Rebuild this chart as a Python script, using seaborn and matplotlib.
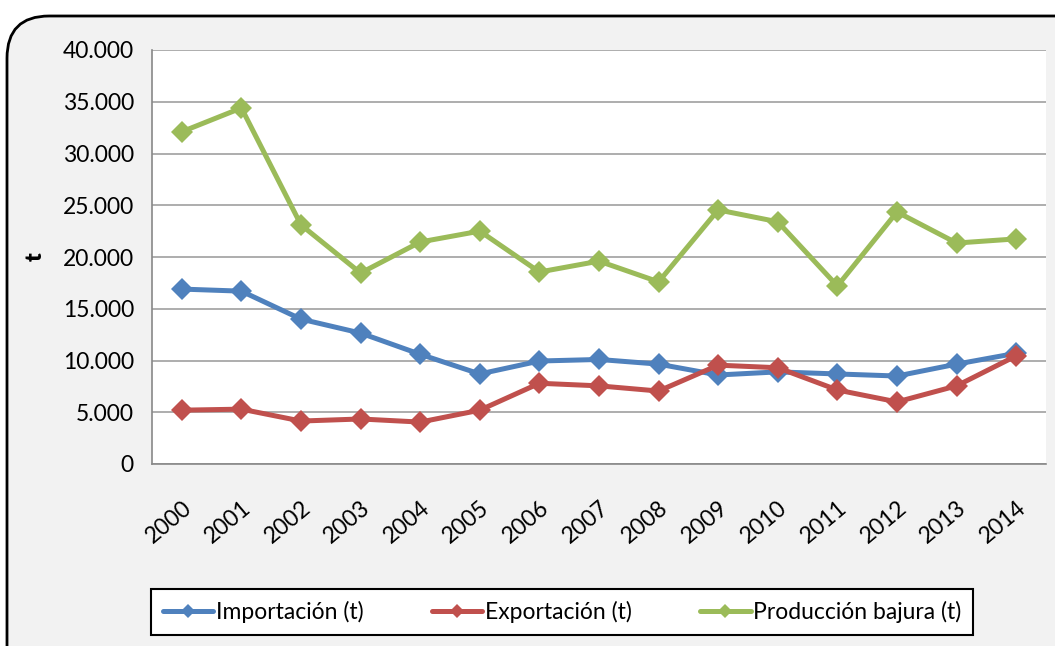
import numpy as np
import pandas as pd
import matplotlib
matplotlib.use("Agg")
import matplotlib.pyplot as plt
from matplotlib.patches import FancyBboxPatch
from matplotlib.ticker import FuncFormatter, FixedLocator
import seaborn as sns

years = [str(y) for y in range(2000, 2015)]
importacion = [16900, 16700, 14000, 12650, 10600, 8700, 9950, 10100, 9650, 8600, 8900, 8700, 8500, 9650, 10700]
exportacion = [5200, 5300, 4150, 4350, 4050, 5200, 7800, 7550, 7050, 9550, 9300, 7150, 6000, 7550, 10450]
produccion = [32100, 34400, 23100, 18450, 21450, 22500, 18550, 19600, 17600, 24550, 23400, 17200, 24350, 21350, 21750]
series_names = ["Importación (t)", "Exportación (t)", "Producción bajura (t)"]
colors = ["#4F81BD", "#C0504D", "#9BBB59"]

df = pd.DataFrame({"year": years, series_names[0]: importacion,
                   series_names[1]: exportacion, series_names[2]: produccion})
df["x"] = np.arange(len(years))
long = df.melt(id_vars=["year", "x"], var_name="serie", value_name="t")

sns.set_style("white")
plt.rcParams["font.family"] = ["Lato", "DejaVu Sans"]
plt.rcParams["text.color"] = "black"
plt.rcParams["xtick.color"] = "black"
plt.rcParams["ytick.color"] = "black"
plt.rcParams["axes.labelcolor"] = "black"
fs = 16.5

fig = plt.figure(figsize=(10.55, 6.46), dpi=100)
fig.patch.set_facecolor("white")

# rounded frame of the chart
frame = FancyBboxPatch((7 / 1055, -0.2), 1.2, (646 - 16) / 646 + 0.2,
                       boxstyle="round,pad=0,rounding_size=0.04",
                       transform=fig.transFigure, facecolor="#F2F2F2",
                       edgecolor="black", linewidth=2, mutation_aspect=1055 / 646,
                       zorder=-10)
fig.patches.append(frame)

ax = fig.add_axes([152 / 1055, 1 - 464 / 646, (1046 - 152) / 1055, (464 - 50) / 646])
ax.set_zorder(5)
ax.set_facecolor("white")

sns.lineplot(data=long, x="x", y="t", hue="serie", palette=colors,
             marker="D", markersize=11, linewidth=3.6, markeredgewidth=0,
             ax=ax, legend=False, zorder=3)

ax.set_xlim(-0.5, len(years) - 0.5)
ax.set_ylim(0, 40000)
ax.set_yticks(np.arange(0, 40001, 5000))
ax.yaxis.set_major_formatter(FuncFormatter(lambda v, p: f"{int(v):,}".replace(",", ".")))
ax.yaxis.grid(True, color="#A0A0A0", linewidth=1.2)
ax.set_axisbelow(True)

ax.set_xticks(np.arange(len(years)))
ax.set_xticklabels(years, rotation=40, ha="right", rotation_mode="anchor")
ax.xaxis.set_minor_locator(FixedLocator(np.arange(-0.5, len(years), 1)))
ax.tick_params(axis="x", which="major", length=0, pad=24, labelsize=fs)
ax.tick_params(axis="x", which="minor", length=7, width=1.2, color="#888888", direction="out")
ax.tick_params(axis="y", length=7, width=1.2, color="#888888", direction="out", labelsize=fs, pad=6)

for side in ["top", "right"]:
    ax.spines[side].set_visible(False)
for side in ["left", "bottom"]:
    ax.spines[side].set_color("#888888")
    ax.spines[side].set_linewidth(1.2)

ax.set_xlabel("")
ax.set_ylabel("t", fontsize=fs, fontweight="heavy", labelpad=12)

handles = [plt.Line2D([], [], color=c, linewidth=3.6, marker="D", markersize=7, markeredgewidth=0)
           for c in colors]
leg = fig.legend(handles, series_names, loc="center", bbox_to_anchor=(562 / 1055, 1 - 612 / 646),
                 ncol=3, frameon=True, fancybox=False, fontsize=fs, handlelength=2.2,
                 handletextpad=0.1, columnspacing=3.0, borderpad=0.5)
leg.get_frame().set_edgecolor("black")
leg.get_frame().set_linewidth(1.5)
leg.get_frame().set_facecolor("white")
leg.get_frame().set_alpha(1)

fig.savefig("out.png", dpi=100, facecolor=fig.get_facecolor())
